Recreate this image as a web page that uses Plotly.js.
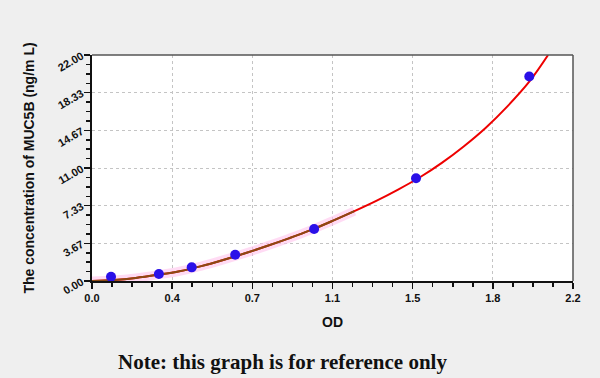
<!DOCTYPE html>
<html><head><meta charset="utf-8">
<script src="https://cdn.plot.ly/plotly-3.0.1.min.js"></script>
<style>html,body{margin:0;padding:0;background:#efefef;}#chart{width:600px;height:378px;}</style>
</head><body><div id="chart"></div>
<script>
// Standard points
var pointOD = [0.087, 0.306, 0.456, 0.655, 1.016, 1.482, 2.0];
var pointConc = [0.42, 0.68, 1.33, 2.56, 5.06, 10.0, 19.9];
// Fitted curve
var curveOD = [0.0, 0.1, 0.2, 0.3, 0.4, 0.5, 0.6, 0.7, 0.8, 0.9, 1.0, 1.1, 1.2, 1.3, 1.4, 1.5, 1.6, 1.7, 1.8, 1.9, 2.0, 2.086];
var curveConc = [0.0, 0.1, 0.3, 0.6, 0.95, 1.45, 2.05, 2.7, 3.4, 4.15, 4.95, 5.85, 6.8, 7.8, 8.9, 10.1, 11.5, 13.1, 14.9, 17.0, 19.4, 22.0];
// Lower (brown, shaded) part of the curve
var lowOD = [0.0, 0.1, 0.2, 0.3, 0.4, 0.5, 0.6, 0.7, 0.8, 0.9, 1.0, 1.1, 1.2];
var lowConc = [0.0, 0.1, 0.3, 0.6, 0.95, 1.45, 2.05, 2.7, 3.4, 4.15, 4.95, 5.85, 6.8];
// Axis ticks
var xTicks = [0, 0.36667, 0.73333, 1.1, 1.46667, 1.83333, 2.2];
var xTickText = ['0.0', '0.4', '0.7', '1.1', '1.5', '1.8', '2.2'];
var yTicks = [0, 3.66667, 7.33333, 11, 14.66667, 18.33333, 22];
var yTickText = ['0.00', '3.67', '7.33', '11.00', '14.67', '18.33', '22.00'];

var traces = [
  {x: lowOD, y: lowConc, mode: 'lines', line: {color: 'rgba(255,190,235,0.55)', width: 9, shape: 'spline'}, hoverinfo: 'skip'},
  {x: curveOD, y: curveConc, mode: 'lines', line: {color: '#ee0000', width: 2, shape: 'spline'}},
  {x: lowOD, y: lowConc, mode: 'lines', line: {color: '#8a4a14', width: 2, shape: 'spline'}},
  {x: pointOD, y: pointConc, mode: 'markers', marker: {color: '#2a10e8', size: 10, line: {width: 0}}}
];

var layout = {
  width: 600, height: 378,
  margin: {l: 92, r: 27, t: 55, b: 97},
  paper_bgcolor: '#efefef', plot_bgcolor: '#ffffff',
  showlegend: false,
  xaxis: {
    range: [0, 2.2], tickmode: 'array', tickvals: xTicks, ticktext: xTickText,
    tickfont: {family: 'Liberation Sans, Arial, sans-serif', size: 11, color: '#111', weight: 'bold'},
    ticks: 'outside', ticklen: 6, tickwidth: 1.5, tickcolor: '#111',
    showline: true, linecolor: '#111', linewidth: 2,
    showgrid: true, gridcolor: '#c4c4c4', griddash: 'dot', gridwidth: 1,
    zeroline: false,
    minor: {tickmode: 'linear', tick0: 0, dtick: 0.0916667, ticks: 'outside', ticklen: 4, tickcolor: '#111', showgrid: false},
    title: {text: 'OD', font: {family: 'Liberation Sans, Arial, sans-serif', size: 14, color: '#111', weight: 'bold'}, standoff: 14}
  },
  yaxis: {
    range: [0, 22], tickmode: 'array', tickvals: yTicks, ticktext: yTickText, tickangle: -30,
    tickfont: {family: 'Liberation Sans, Arial, sans-serif', size: 11, color: '#111', weight: 'bold'},
    ticks: 'outside', ticklen: 6, tickwidth: 1.5, tickcolor: '#111',
    showline: true, linecolor: '#111', linewidth: 2,
    showgrid: true, gridcolor: '#c4c4c4', griddash: 'dot', gridwidth: 1,
    zeroline: false,
    minor: {tickmode: 'linear', tick0: 0, dtick: 0.9166667, ticks: 'outside', ticklen: 4, tickcolor: '#111', showgrid: false},
    title: {text: 'The concentration of MUC5B (ng/m L)', font: {family: 'Liberation Sans, Arial, sans-serif', size: 14, color: '#111', weight: 'bold'}, standoff: 18}
  },
  shapes: [
    {type: 'line', xref: 'paper', yref: 'paper', x0: 0, x1: 1, y0: 1, y1: 1, line: {color: '#555', width: 1.5}},
    {type: 'line', xref: 'paper', yref: 'paper', x0: 1, x1: 1, y0: 0, y1: 1, line: {color: '#555', width: 1.5}}
  ],
  annotations: [
    {text: 'Note: this graph is for reference only', xref: 'paper', yref: 'paper', x: 0.397, y: -0.36, xanchor: 'center', yanchor: 'middle', showarrow: false,
     font: {family: 'Liberation Serif, DejaVu Serif, serif', size: 21, color: '#111', weight: 'bold'}}
  ]
};
Plotly.newPlot('chart', traces, layout, {displayModeBar: false, staticPlot: true});
</script></body></html>
